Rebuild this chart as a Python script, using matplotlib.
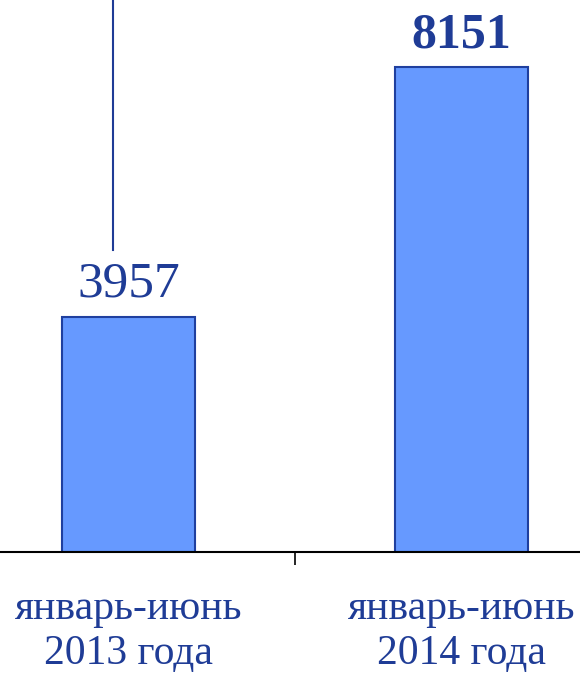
import matplotlib
matplotlib.use('Agg')
import matplotlib.pyplot as plt

plt.rcParams['font.family'] = ['Liberation Serif', 'DejaVu Serif']

categories = ['январь-июнь\n2013 года', 'январь-июнь\n2014 года']
values = [3957, 8151]
bold_flags = [False, True]

text_color = '#1F3C96'
bar_color = '#6699FF'
edge_color = '#1F3F9F'


def main():
    fig = plt.figure(figsize=(5.8, 6.74), dpi=100)
    ax = fig.add_axes([0, 0.181, 1, 0.819])

    x = range(len(values))
    ax.bar(x, values, width=0.4, color=bar_color, edgecolor=edge_color, linewidth=1.5)

    for i, v in enumerate(values):
        ax.annotate(str(v), (i, v), xytext=(0, 14.4), textcoords='offset points',
                    ha='center', va='baseline', fontsize=37 if not bold_flags[i] else 36,
                    fontweight='bold' if bold_flags[i] else 'normal', color=text_color)

    # leader line above the first label
    ax.plot([-0.0465, -0.0465], [5076, 9300], color=text_color, linewidth=1.5)

    ax.set_xlim(-0.386, 1.356)
    ax.set_ylim(0, 9280)

    ax.set_xticks(list(x))
    ax.set_xticklabels(categories, fontsize=30, color=text_color, linespacing=1.22)
    ax.tick_params(axis='x', which='major', length=0, pad=27)
    ax.set_xticks([0.5], minor=True)
    ax.tick_params(axis='x', which='minor', length=9.4, width=1.2, direction='out')
    ax.set_yticks([])

    for side in ['top', 'left', 'right']:
        ax.spines[side].set_visible(False)
    ax.spines['bottom'].set_linewidth(1.5)

    fig.savefig('out.png', dpi=100)


if __name__ == "__main__":
    main()
